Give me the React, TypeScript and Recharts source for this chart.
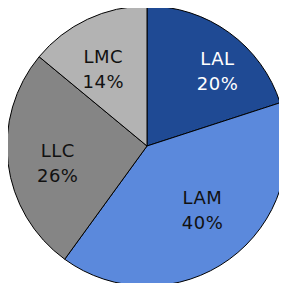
import React from 'react';
import { PieChart, Pie, Cell } from 'recharts';

const categories = ['LAL', 'LAM', 'LLC', 'LMC'];
const shares = [20, 40, 26, 14];

const sliceColors = ['#1f4a94', '#5b89dc', '#858585', '#b3b3b3'];
const textColors = ['#ffffff', '#111111', '#111111', '#111111'];
// small nudges so labels sit where the original placed them
const labelNudge = [
  { dx: 17, dy: -1 },
  { dx: 2, dy: -10 },
  { dx: 1, dy: 6 },
  { dx: -5, dy: 5 },
];

const data = categories.map((name, i) => ({ name, value: shares[i] }));

const RADIAN = Math.PI / 180;

const renderLabel = (props: any) => {
  const { cx, cy, midAngle, outerRadius, index } = props;
  const r = outerRadius * 0.65;
  const x = cx + r * Math.cos(-midAngle * RADIAN) + labelNudge[index].dx;
  const y = cy + r * Math.sin(-midAngle * RADIAN) + labelNudge[index].dy;
  return (
    <text
      x={x}
      y={y}
      fill={textColors[index]}
      textAnchor="middle"
      fontFamily="DejaVu Sans"
      fontSize={18}
      letterSpacing={0.5}
    >
      <tspan x={x} dy={-6}>{data[index].name}</tspan>
      <tspan x={x} dy={25}>{shares[index]}%</tspan>
    </text>
  );
};

export default function App() {
  return (
    <div style={{ margin: -8, width: 287, height: 291, background: '#fff' }}>
      <PieChart width={287} height={291} margin={{ top: 0, right: 0, bottom: 0, left: 0 }}>
        <Pie
          data={data}
          dataKey="value"
          nameKey="name"
          cx={147}
          cy={146}
          outerRadius={140}
          startAngle={90}
          endAngle={-270}
          stroke="#000"
          strokeWidth={1}
          label={renderLabel}
          labelLine={false}
          isAnimationActive={false}
        >
          {data.map((d, i) => (
            <Cell key={d.name} fill={sliceColors[i]} />
          ))}
        </Pie>
      </PieChart>
    </div>
  );
}
